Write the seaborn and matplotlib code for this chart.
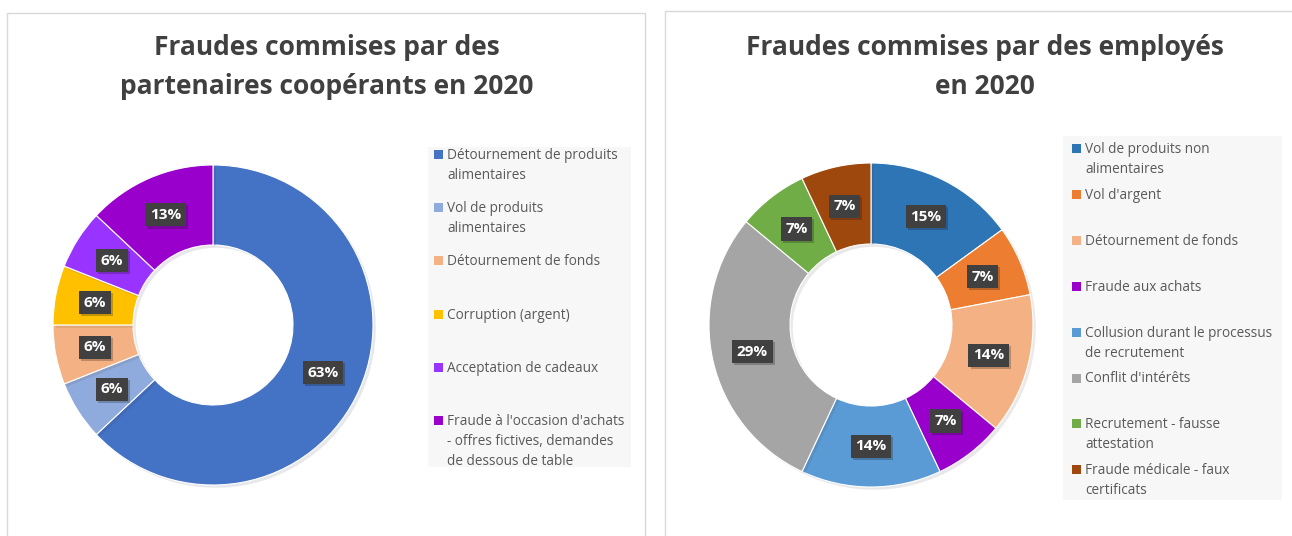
import matplotlib
matplotlib.use('Agg')
import matplotlib.pyplot as plt
import matplotlib.patheffects as pe
from matplotlib.patches import Rectangle
import seaborn as sns

# Data
partner_labels = [
    "Détournement de produits\nalimentaires",
    "Vol de produits\nalimentaires",
    "Détournement de fonds",
    "Corruption (argent)",
    "Acceptation de cadeaux",
    "Fraude à l'occasion d'achats\n- offres fictives, demandes\nde dessous de table",
]
partner_values = [63, 6, 6, 6, 6, 13]
partner_colors = ['#4472C4', '#8FAADC', '#F4B183', '#FFC000', '#9933FF', '#9900CC']

employee_labels = [
    "Vol de produits non\nalimentaires",
    "Vol d'argent",
    "Détournement de fonds",
    "Fraude aux achats",
    "Collusion durant le processus\nde recrutement",
    "Conflit d'intérêts",
    "Recrutement - fausse\nattestation",
    "Fraude médicale - faux\ncertificats",
]
employee_values = [15, 7, 14, 7, 14, 29, 7, 7]
employee_colors = ['#2E75B6', '#ED7D31', '#F4B183', '#9900CC', '#5B9BD5', '#A5A5A5', '#70AD47', '#9E480E']

titles = ["Fraudes commises par des\npartenaires coopérants en 2020",
          "Fraudes commises par des employés\nen 2020"]

sns.set_theme(style='white')
plt.rcParams['font.family'] = ['Open Sans', 'DejaVu Sans']

W, H = 1292, 536
fig = plt.figure(figsize=(W / 100, H / 100), dpi=100)
fig.patch.set_facecolor('white')


def fx(x):
    return x / W


def fy(y):
    return 1 - y / H


# panel borders
for x0, y0, x1, y1 in [(7, 13, 645, 545), (665, 11, 1300, 545)]:
    fig.patches.append(Rectangle((fx(x0), fy(y1)), fx(x1 - x0), (y1 - y0) / H,
                                 transform=fig.transFigure, fill=False,
                                 edgecolor='#D9D9D9', linewidth=1))


def donut(cx, cy, r, values, colors):
    ax = fig.add_axes([fx(cx - r), fy(cy + r), 2 * r / W, 2 * r / H])
    wedges, texts, autotexts = ax.pie(
        values, colors=colors, startangle=90, counterclock=False,
        radius=1, pctdistance=0.75,
        autopct=lambda p: f'{p:.0f}%',
        wedgeprops=dict(width=0.5, edgecolor='white', linewidth=0.8),
        textprops=dict(color='white', fontsize=11, fontweight='bold'))
    for w in wedges:
        w.set_path_effects([pe.SimplePatchShadow(offset=(2, -2), alpha=0.1), pe.Normal()])
    for t in autotexts:
        t.set_bbox(dict(boxstyle='square,pad=0.3', facecolor='#404040', edgecolor='none'))
        t.get_bbox_patch().set_path_effects([pe.SimplePatchShadow(offset=(1.5, -1.5), alpha=0.25), pe.Normal()])
    ax.set_xlim(-1, 1)
    ax.set_ylim(-1, 1)
    ax.set_aspect('equal')
    ax.axis('off')
    return ax


def legend(bg, sq_x, txt_x, y_first, step, labels, colors):
    x0, y0, x1, y1 = bg
    fig.patches.append(Rectangle((fx(x0), fy(y1)), fx(x1 - x0), (y1 - y0) / H,
                                 transform=fig.transFigure, facecolor='#F7F7F7',
                                 edgecolor='none', zorder=0))
    for i, (lab, col) in enumerate(zip(labels, colors)):
        yc = y_first + i * step
        fig.patches.append(Rectangle((fx(sq_x), fy(yc + 5)), 9 / W, 9 / H,
                                     transform=fig.transFigure, facecolor=col,
                                     edgecolor='none', zorder=1))
        fig.text(fx(txt_x), fy(yc - 6), lab, ha='left', va='top',
                 fontsize=9.8, color='#595959', linespacing=1.45)


donut(213, 325, 160, partner_values, partner_colors)
donut(871, 325, 162, employee_values, employee_colors)

legend((428, 147, 631, 467), 434, 447, 154, 53.2, partner_labels, partner_colors)
legend((1063, 136, 1282, 500), 1072, 1085, 148, 45.9, employee_labels, employee_colors)

fig.text(fx(327), fy(67), titles[0], ha='center', va='center', fontsize=19,
         fontweight='bold', color='#404040', linespacing=1.6)
fig.text(fx(985), fy(67), titles[1], ha='center', va='center', fontsize=19,
         fontweight='bold', color='#404040', linespacing=1.6)

fig.savefig('out.png', dpi=100)
